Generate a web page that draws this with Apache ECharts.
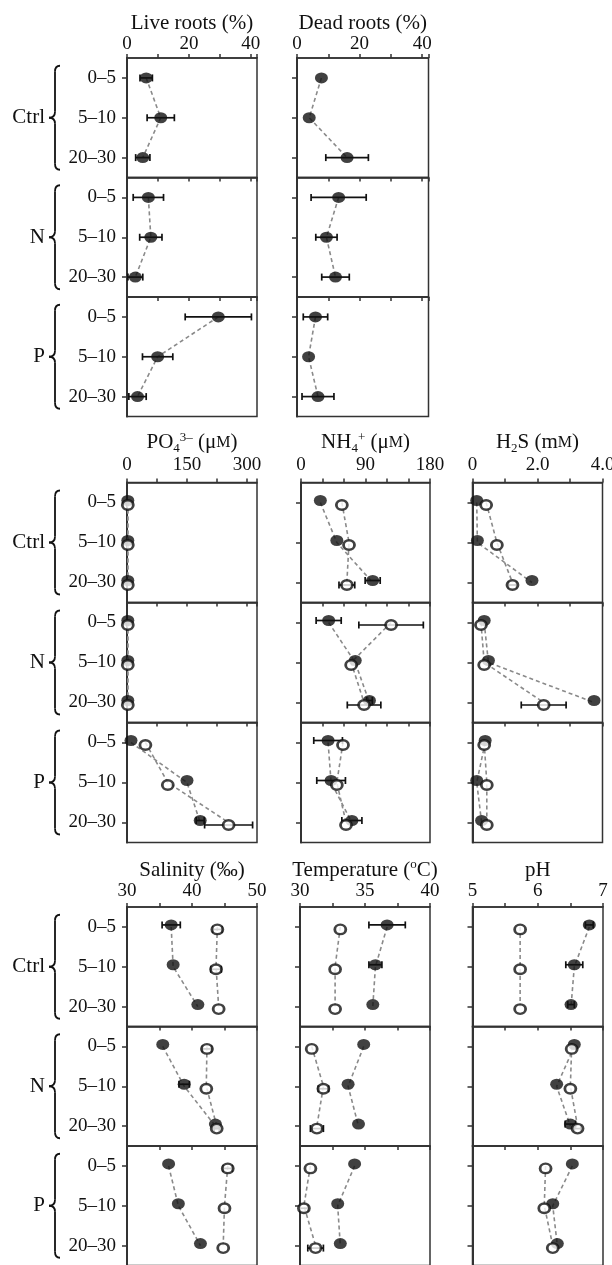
<!DOCTYPE html>
<html lang="en">
<head>
<meta charset="UTF-8">
<title>Sediment depth profiles</title>
<script src="https://cdn.jsdelivr.net/npm/echarts@6/dist/echarts.min.js"></script>
<style>
  body { margin: 0; background: #fff; }
  #main { width: 612px; height: 1265px; }
</style>
</head>
<body>
<div id="main"></div>
<script type="text/javascript">
// categories
var depths = ['0–5', '5–10', '20–30'];
var treatments = ['Ctrl', 'N', 'P'];

// each array: one row per treatment (Ctrl, N, P), one value per depth
var liveRoots = [[6.2, 10.9, 5.1], [6.9, 7.7, 2.7], [29.5, 9.9, 3.4]];
var liveRootsErr = [[2.0, 4.4, 2.3], [4.9, 3.6, 2.4], [10.7, 4.9, 2.8]];
var deadRoots = [[7.8, 3.9, 16.0], [13.3, 9.4, 12.3], [5.9, 3.7, 6.7]];
var deadRootsErr = [[0, 0, 6.8], [8.8, 3.4, 4.4], [3.9, 0, 5.1]];

var po4Filled = [[2, 2, 2], [2, 2, 2], [10, 150, 183]];
var po4FilledErr = [[0, 0, 0], [0, 0, 0], [0, 0, 10]];
var po4Open = [[2, 2, 2], [2, 2, 2], [46, 102, 254]];
var po4OpenErr = [[0, 0, 0], [0, 0, 0], [0, 0, 60]];

var nh4Filled = [[27, 50, 100], [38.6, 75.7, 95.5], [37.8, 42, 71]];
var nh4FilledErr = [[0, 0, 10.5], [17.5, 0, 4], [20, 20, 14]];
var nh4Open = [[57, 67, 64], [125.7, 70, 88], [58.6, 50, 62.8]];
var nh4OpenErr = [[0, 0, 11], [45, 0, 23.4], [0, 0, 0]];

var h2sFilled = [[0.13, 0.15, 1.83], [0.36, 0.49, 3.74], [0.39, 0.13, 0.28]];
var h2sFilledErr = [[0, 0, 0], [0, 0, 0], [0, 0, 0]];
var h2sOpen = [[0.42, 0.75, 1.23], [0.26, 0.36, 2.19], [0.36, 0.44, 0.44]];
var h2sOpenErr = [[0, 0, 0.12], [0, 0, 0.69], [0, 0, 0]];

var salFilled = [[36.8, 37.1, 40.9], [35.5, 38.8, 43.6], [36.4, 37.9, 41.3]];
var salFilledErr = [[1.4, 0, 0], [0, 0.8, 0], [0, 0, 0]];
var salOpen = [[43.9, 43.7, 44.1], [42.3, 42.2, 43.8], [45.5, 45.0, 44.8]];
var salOpenErr = [[0.7, 0.8, 0], [0.7, 0, 0.4], [0.7, 0, 0]];

var tempFilled = [[36.7, 35.8, 35.6], [34.9, 33.7, 34.5], [34.2, 32.9, 33.1]];
var tempFilledErr = [[1.4, 0.5, 0], [0, 0, 0], [0, 0, 0]];
var tempOpen = [[33.1, 32.7, 32.7], [30.9, 31.8, 31.3], [30.8, 30.3, 31.2]];
var tempOpenErr = [[0, 0, 0], [0, 0.4, 0.5], [0, 0.3, 0.6]];

var phFilled = [[6.79, 6.56, 6.51], [6.56, 6.29, 6.50], [6.53, 6.23, 6.30]];
var phFilledErr = [[0.06, 0.13, 0.05], [0, 0, 0.08], [0, 0, 0]];
var phOpen = [[5.73, 5.73, 5.73], [6.52, 6.50, 6.61], [6.12, 6.10, 6.23]];
var phOpenErr = [[0, 0, 0], [0, 0, 0.05], [0, 0, 0]];

var FONT = '"Liberation Serif", "Times New Roman", serif';
var INK = '#111';
var FRAME = '#333';

// layout of the three blocks of panels
var rows = [
  {top: 58, h: 119.5, labelMargin: 4, nameGap: 22, cols: [{left: 127, w: 130}, {left: 297, w: 131.5}]},
  {top: 482.5, h: 120, labelMargin: 8, nameGap: 25, cols: [{left: 127, w: 130}, {left: 301, w: 129}, {left: 472.5, w: 130}]},
  {top: 907, h: 119.5, labelMargin: 6, nameGap: 25, cols: [{left: 127, w: 130}, {left: 300, w: 130}, {left: 472.5, w: 130.5}]}
];

var panels = [
  {row: 0, col: 0, title: '{t|Live roots (%)}', min: 0, max: 42, step: 10,
    labels: {0: '0', 20: '20', 40: '40'}, filled: liveRoots, filledErr: liveRootsErr},
  {row: 0, col: 1, title: '{t|Dead roots (%)}', min: 0, max: 42, step: 10,
    labels: {0: '0', 20: '20', 40: '40'}, filled: deadRoots, filledErr: deadRootsErr},
  {row: 1, col: 0, title: '{t|PO}{sub|4}{sup|3–}{t| (μ}{sc|M}{t|)}', min: 0, max: 325, step: 75,
    labels: {0: '0', 150: '150', 300: '300'}, filled: po4Filled, filledErr: po4FilledErr, open: po4Open, openErr: po4OpenErr},
  {row: 1, col: 1, title: '{t|NH}{sub|4}{sup|+}{t| (μ}{sc|M}{t|)}', min: 0, max: 180, step: 30,
    labels: {0: '0', 90: '90', 180: '180'}, filled: nh4Filled, filledErr: nh4FilledErr, open: nh4Open, openErr: nh4OpenErr},
  {row: 1, col: 2, title: '{t|H}{sub|2}{t|S (m}{sc|M}{t|)}', min: 0, max: 4, step: 1,
    labels: {0: '0', 2: '2.0', 4: '4.0'}, filled: h2sFilled, filledErr: h2sFilledErr, open: h2sOpen, openErr: h2sOpenErr},
  {row: 2, col: 0, title: '{t|Salinity (‰)}', min: 30, max: 50, step: 5,
    labels: {30: '30', 40: '40', 50: '50'}, filled: salFilled, filledErr: salFilledErr, open: salOpen, openErr: salOpenErr},
  {row: 2, col: 1, title: '{t|Temperature (}{sup|o}{t|C)}', min: 30, max: 40, step: 2.5,
    labels: {30: '30', 35: '35', 40: '40'}, filled: tempFilled, filledErr: tempFilledErr, open: tempOpen, openErr: tempOpenErr},
  {row: 2, col: 2, title: '{t|pH}', min: 5, max: 7, step: 0.5,
    labels: {5: '5', 6: '6', 7: '7'}, filled: phFilled, filledErr: phFilledErr, open: phOpen, openErr: phOpenErr}
];

var titleRich = {
  t: {fontFamily: FONT, fontSize: 21, color: INK, lineHeight: 24},
  sub: {fontFamily: FONT, fontSize: 13, color: INK, lineHeight: 12, verticalAlign: 'bottom'},
  sup: {fontFamily: FONT, fontSize: 13, color: INK, lineHeight: 12, verticalAlign: 'top'},
  sc: {fontFamily: FONT, fontSize: 16, color: INK, lineHeight: 24}
};

function renderErr(params, api) {
  var v = api.value(0), ci = api.value(1), e = api.value(2), off = api.value(3);
  var a = api.coord([v - e, ci]);
  var b = api.coord([v + e, ci]);
  var y = a[1] + off, c = 3.5;
  var st = {stroke: INK, lineWidth: 1.7};
  return {
    type: 'group',
    children: [
      {type: 'line', shape: {x1: a[0], y1: y, x2: b[0], y2: y}, style: st},
      {type: 'line', shape: {x1: a[0], y1: y - c, x2: a[0], y2: y + c}, style: st},
      {type: 'line', shape: {x1: b[0], y1: y - c, x2: b[0], y2: y + c}, style: st}
    ]
  };
}

var grids = [], xAxes = [], yAxes = [], series = [], graphics = [];

function pts(vals) {
  return vals.map(function (v, i) { return [v, i]; });
}
function errPts(vals, errs, off) {
  var out = [];
  vals.forEach(function (v, i) {
    if (errs[i] > 0) out.push([v, i, errs[i], off]);
  });
  return out;
}

panels.forEach(function (p) {
  var r = rows[p.row], c = r.cols[p.col];
  var twoSeries = !!p.open;
  treatments.forEach(function (t, ti) {
    var gi = grids.length;
    grids.push({
      left: c.left, top: r.top + ti * r.h, width: c.w, height: r.h,
      outerBoundsMode: 'none',
      show: true, borderColor: FRAME, borderWidth: 1.5, backgroundColor: 'transparent'
    });
    xAxes.push({
      gridIndex: gi, type: 'value', position: 'top',
      min: p.min, max: p.max, interval: p.step,
      name: ti === 0 ? p.title : '', nameLocation: 'middle', nameGap: r.nameGap,
      nameTextStyle: {rich: titleRich},
      axisLine: {show: true, lineStyle: {color: FRAME, width: 1.5}},
      axisTick: {show: true, inside: ti > 0, length: 4, lineStyle: {color: FRAME, width: 1.5}},
      axisLabel: {
        show: ti === 0, margin: r.labelMargin, fontFamily: FONT, fontSize: 19, color: INK,
        formatter: function (v) { return p.labels[v] !== undefined ? p.labels[v] : ''; }
      },
      splitLine: {show: false}
    });
    yAxes.push({
      gridIndex: gi, type: 'category', data: depths, inverse: true, boundaryGap: true,
      axisLine: {show: true, lineStyle: {color: FRAME, width: 2}},
      axisTick: {show: true, alignWithLabel: true, length: 5, lineStyle: {color: FRAME, width: 1.5}},
      axisLabel: {show: p.col === 0, margin: 11, fontFamily: FONT, fontSize: 19, color: INK},
      splitLine: {show: false}
    });

    var dash = {color: '#8a8a8a', width: 1.6, type: [4, 3]};
    var offF = twoSeries ? -2 : 0, offO = 2.5;

    series.push({
      type: 'line', xAxisIndex: gi, yAxisIndex: gi, data: pts(p.filled[ti]),
      showSymbol: false, lineStyle: dash, z: 2, silent: true
    });
    if (twoSeries) {
      series.push({
        type: 'line', xAxisIndex: gi, yAxisIndex: gi, data: pts(p.open[ti]),
        showSymbol: false, lineStyle: dash, z: 2, silent: true
      });
    }
    series.push({
      type: 'custom', xAxisIndex: gi, yAxisIndex: gi, renderItem: renderErr, z: 3, silent: true,
      data: errPts(p.filled[ti], p.filledErr[ti], offF)
        .concat(twoSeries ? errPts(p.open[ti], p.openErr[ti], offO) : [])
    });
    series.push({
      type: 'scatter', xAxisIndex: gi, yAxisIndex: gi, data: pts(p.filled[ti]),
      symbol: 'circle', symbolSize: [13, 11], symbolOffset: [0, offF],
      itemStyle: {color: INK}, z: 4, silent: true
    });
    if (twoSeries) {
      series.push({
        type: 'scatter', xAxisIndex: gi, yAxisIndex: gi, data: pts(p.open[ti]),
        symbol: 'circle', symbolSize: [11, 9.5], symbolOffset: [0, offO],
        itemStyle: {color: '#fff', borderColor: INK, borderWidth: 2.6}, z: 5, silent: true
      });
    }
  });
});

// treatment labels with curly braces on the left of each block
function addBrace(cy) {
  var half = 52, top = cy - half, bot = cy + half, arm = 60, mid = 55, tip = 49;
  var st = {stroke: INK, lineWidth: 1.8, fill: null};
  graphics.push({type: 'bezierCurve', shape: {x1: arm, y1: top, cpx1: mid, cpy1: top, x2: mid, y2: top + 6}, style: st});
  graphics.push({type: 'line', shape: {x1: mid, y1: top + 6, x2: mid, y2: cy - 6}, style: st});
  graphics.push({type: 'bezierCurve', shape: {x1: mid, y1: cy - 6, cpx1: mid, cpy1: cy, x2: tip, y2: cy}, style: st});
  graphics.push({type: 'bezierCurve', shape: {x1: tip, y1: cy, cpx1: mid, cpy1: cy, x2: mid, y2: cy + 6}, style: st});
  graphics.push({type: 'line', shape: {x1: mid, y1: cy + 6, x2: mid, y2: bot - 6}, style: st});
  graphics.push({type: 'bezierCurve', shape: {x1: mid, y1: bot - 6, cpx1: mid, cpy1: bot, x2: arm, y2: bot}, style: st});
}

rows.forEach(function (r) {
  treatments.forEach(function (t, ti) {
    var cy = r.top + ti * r.h + r.h / 2;
    addBrace(cy);
    graphics.push({
      type: 'text', x: 45, y: cy,
      style: {text: t, align: 'right', verticalAlign: 'middle', fontFamily: FONT, fontSize: 21, fill: INK}
    });
  });
});

var myChart = echarts.init(document.getElementById('main'));
myChart.setOption({
  animation: false,
  backgroundColor: '#fff',
  grid: grids,
  xAxis: xAxes,
  yAxis: yAxes,
  series: series,
  graphic: graphics
});
</script>
</body>
</html>
